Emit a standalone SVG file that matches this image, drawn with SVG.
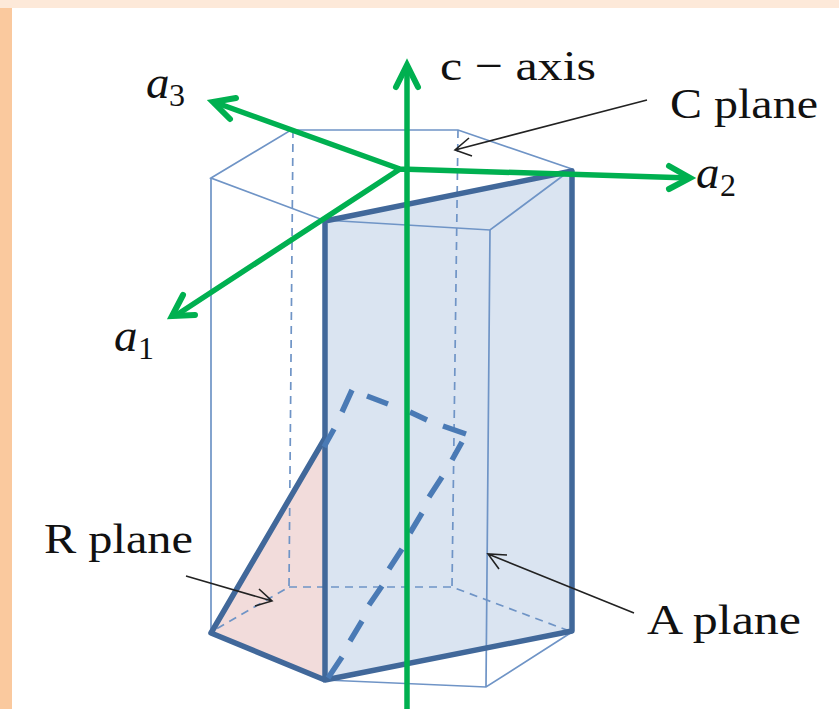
<svg xmlns="http://www.w3.org/2000/svg" width="839" height="709" viewBox="0 0 839 709">
<defs>
<style>
.edge{fill:none;stroke:#6f94c6;stroke-width:1.7}
.dash{fill:none;stroke:#6f94c6;stroke-width:1.7;stroke-dasharray:8 6}
.bold{fill:none;stroke:#41689a;stroke-width:5.5;stroke-linejoin:round}
.bd{fill:none;stroke:#4a7ab5;stroke-width:5.5}
.axis{fill:none;stroke:#00b050;stroke-width:5.5}
.head{fill:none;stroke:#00b050;stroke-width:6;stroke-linecap:round;stroke-linejoin:miter}
.lead{fill:none;stroke:#222;stroke-width:1.6}
text{font-family:"Liberation Serif","DejaVu Serif",serif;fill:#111;font-size:43px}
.m{font-style:italic;font-size:47px}
.s{font-size:32px}
</style>
</defs>
<rect width="839" height="709" fill="#fff"/>
<rect width="839" height="8" fill="#fde9d9"/>
<rect y="8" width="12" height="701" fill="#fac99e"/>
<g id="a-plane"><polygon points="325,221 572,171 572,631 325,680" fill="#dae4f1"/></g>
<g id="r-plane"><polygon points="325,438 325,680 211,633" fill="#f2dcdb"/></g>
<g id="prism">
<path class="edge" d="M211,178 291,130 458,130 572,169 490,230 323,220Z"/>
<path class="edge" d="M211,178V632M490,230 486,687M325,680 486,687 572,632"/>
<path class="dash" d="M293,130 289,587 211,632M458,130 452,587 572,632M289,587H452"/>
</g>
<g id="plane-outlines">
<path class="bold" d="M325,221 572,171V631L325,680Z"/>
<path class="bold" d="M325,438 211,633 325,680"/>
<path class="bd" d="M352,390 342,412M334,429 324,447M367,396 388,404M410,412 427,420M443,426 466,434M462,442 452,460M442,477 429,497M422,513 410,533M402,549 389,569M382,586 369,605M362,621 350,641M342,657 328,678"/>
</g>
<g id="connectors">
<path class="axis" d="M407,709V66"/>
<path class="head" d="M396,87 407,65 418,87"/>
<path class="axis" d="M400,169 214,102M400,169 175,316M400,169 690,178"/>
<path class="head" d="M236,98 213,102 230,119"/>
<path class="head" d="M183,295 172,316 195,315"/>
<path class="head" d="M669,166 690,178 669,189"/>
<path class="lead" d="M647,100 455,150M469,138 455,150 472,156"/>
<path class="lead" d="M186,576 272,601M259,589 272,601 255,606"/>
<path class="lead" d="M634,613 488,554M507,555 488,554 499,569"/>
</g>
<g id="labels">
<text x="440" y="80" textLength="156" lengthAdjust="spacingAndGlyphs">c − axis</text>
<text x="670" y="118" textLength="148" lengthAdjust="spacingAndGlyphs">C plane</text>
<text x="44" y="553" textLength="149" lengthAdjust="spacingAndGlyphs">R plane</text>
<text x="647" y="634" textLength="154" lengthAdjust="spacingAndGlyphs">A plane</text>
<text class="m" x="146" y="98">a</text><text class="s" x="169" y="106">3</text>
<text class="m" x="696" y="188">a</text><text class="s" x="720" y="196">2</text>
<text class="m" x="114" y="351">a</text><text class="s" x="138" y="359">1</text>
</g>
</svg>
